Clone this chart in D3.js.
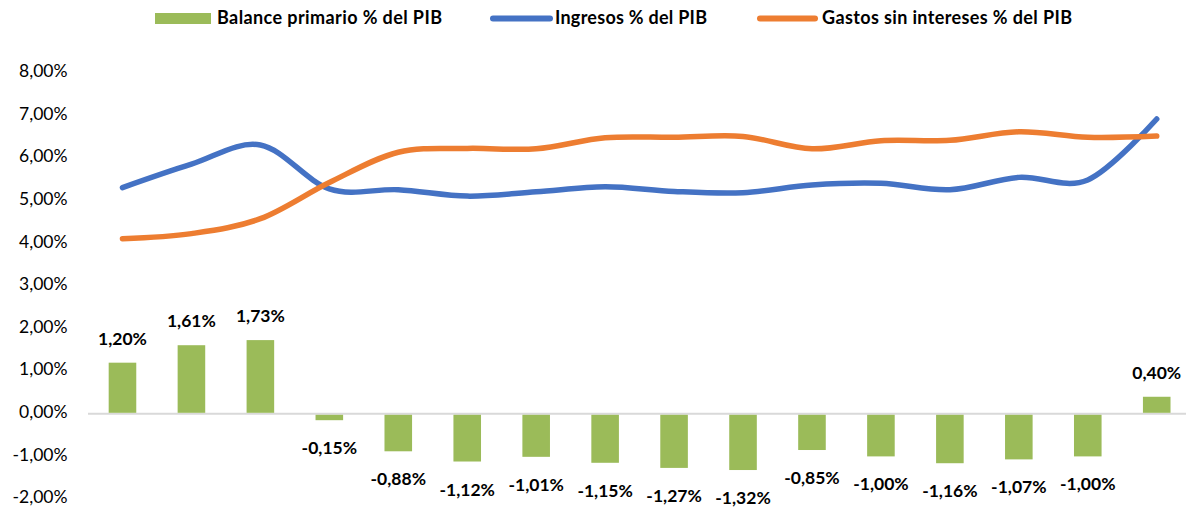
<!DOCTYPE html>
<html>
<head>
<meta charset="utf-8">
<script src="https://cdn.jsdelivr.net/npm/d3@7"></script>
<style>
  html, body { margin: 0; padding: 0; background: #fff; }
  svg { display: block; font-family: Lato, "Open Sans", sans-serif; }
</style>
</head>
<body>
<svg id="chart" width="1186" height="508"></svg>
<script>
// ---- data ----
const categories = ["1","2","3","4","5","6","7","8","9","10","11","12","13","14","15","16"];
const balance = [1.20, 1.61, 1.73, -0.15, -0.88, -1.12, -1.01, -1.15, -1.27, -1.32, -0.85, -1.00, -1.16, -1.07, -1.00, 0.40];
const ingresos = [5.31, 5.86, 6.31, 5.28, 5.26, 5.11, 5.21, 5.33, 5.22, 5.19, 5.37, 5.41, 5.26, 5.55, 5.49, 6.92];
const gastos = [4.11, 4.23, 4.58, 5.43, 6.14, 6.23, 6.22, 6.48, 6.49, 6.51, 6.22, 6.41, 6.42, 6.62, 6.49, 6.52];
const yTicks = [-2, -1, 0, 1, 2, 3, 4, 5, 6, 7, 8];
const seriesNames = ["Balance primario % del PIB", "Ingresos % del PIB", "Gastos sin intereses % del PIB"];
const colors = ["#9BBB59", "#4472C4", "#ED7D31"];

const fmt = v => v.toFixed(2).replace(".", ",") + "%";

const svg = d3.select("#chart");

const x = d3.scaleBand().domain(categories).range([88, 1191.2]).paddingInner(0.6).paddingOuter(0.3);
const y = d3.scaleLinear().domain([-2, 8]).range([499, 73]);
const cx = c => x(c) + x.bandwidth() / 2;

// y axis labels
const yAxis = d3.axisLeft(y).tickValues(yTicks).tickFormat(d => fmt(d)).tickSize(0).tickPadding(0);
const ya = svg.append("g").attr("transform", "translate(67.5,0)").call(yAxis);
ya.select(".domain").remove();
ya.selectAll("text")
  .attr("font-family", "Lato, sans-serif")
  .attr("font-size", 17.5)
  .attr("fill", "#000")
  .attr("dy", "0.32em")
  .attr("y", -2);

// zero line
svg.append("line")
  .attr("x1", 88).attr("x2", 1186)
  .attr("y1", y(0)).attr("y2", y(0))
  .attr("stroke", "#D9D9D9").attr("stroke-width", 2);

// bars
svg.append("g").selectAll("rect")
  .data(balance)
  .join("rect")
  .attr("x", (d, i) => x(categories[i]))
  .attr("width", x.bandwidth())
  .attr("y", d => d >= 0 ? y(d) : y(0) + 1)
  .attr("height", d => d >= 0 ? y(0) - 1 - y(d) : y(d) - y(0) - 1)
  .attr("fill", colors[0]);

// bar labels
svg.append("g").selectAll("text")
  .data(balance)
  .join("text")
  .attr("x", (d, i) => cx(categories[i]))
  .attr("y", d => d >= 0 ? y(d) - 18 : y(d) + 34)
  .attr("text-anchor", "middle")
  .attr("font-size", 17.5)
  .attr("font-weight", "bold")
  .attr("fill", "#000")
  .text(d => fmt(d));

// lines
const line = d3.line()
  .x((d, i) => cx(categories[i]))
  .y(d => y(d))
  .curve(d3.curveCardinal.tension(0));

[[ingresos, colors[1]], [gastos, colors[2]]].forEach(([data, col]) => {
  svg.append("path")
    .datum(data)
    .attr("d", line)
    .attr("fill", "none")
    .attr("stroke", col)
    .attr("stroke-width", 5.5)
    .attr("stroke-linecap", "round")
    .attr("stroke-linejoin", "round");
});

// legend
const lg = svg.append("g");
lg.append("rect").attr("x", 155).attr("y", 13).attr("width", 56).attr("height", 11).attr("fill", colors[0]);
lg.append("text").attr("x", 217).attr("y", 23.5).attr("font-size", 18).attr("font-weight", "bold")
  .attr("textLength", 225).attr("lengthAdjust", "spacing").text(seriesNames[0]);
lg.append("line").attr("x1", 493).attr("x2", 550).attr("y1", 18.5).attr("y2", 18.5)
  .attr("stroke", colors[1]).attr("stroke-width", 6).attr("stroke-linecap", "round");
lg.append("text").attr("x", 555).attr("y", 23.5).attr("font-size", 18).attr("font-weight", "bold")
  .attr("textLength", 152).attr("lengthAdjust", "spacing").text(seriesNames[1]);
lg.append("line").attr("x1", 760).attr("x2", 815).attr("y1", 18.5).attr("y2", 18.5)
  .attr("stroke", colors[2]).attr("stroke-width", 6).attr("stroke-linecap", "round");
lg.append("text").attr("x", 822).attr("y", 23.5).attr("font-size", 18).attr("font-weight", "bold")
  .attr("textLength", 250).attr("lengthAdjust", "spacing").text(seriesNames[2]);
</script>
</body>
</html>
